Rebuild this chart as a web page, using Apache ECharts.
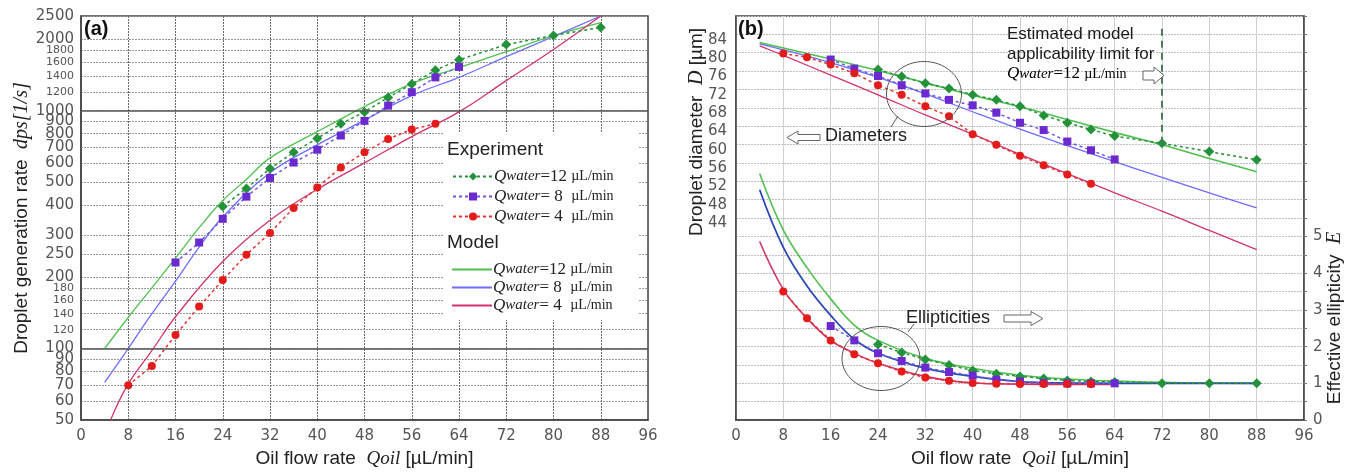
<!DOCTYPE html>
<html>
<head>
<meta charset="utf-8">
<script src="https://cdn.jsdelivr.net/npm/echarts@6/dist/echarts.min.js"></script>
<style>
html, body { margin: 0; background: #fff; }
#main { width: 1355px; height: 473px; }
</style>
</head>
<body>
<div id="main"></div>
<script>
// ---- panel (a): droplet generation rate dps [1/s] ----
var expX12 = [24, 28, 32, 36, 40, 44, 48, 52, 56, 60, 64, 72, 80, 88];
var expDps12 = [395, 471, 571, 668, 764, 880, 988, 1136, 1295, 1479, 1637, 1895, 2071, 2236];
var expX8 = [16, 20, 24, 28, 32, 36, 40, 44, 48, 52, 56, 60, 64];
var expDps8 = [230, 279, 351, 435, 521, 605, 685, 786, 906, 1050, 1196, 1380, 1527];
var expX4 = [8, 12, 16, 20, 24, 28, 32, 36, 40, 44, 48, 52, 56, 60];
var expDps4 = [70, 84.5, 114, 150, 194, 248, 306, 390, 475, 577, 668, 760, 834, 880];

var modX12 = [4, 8, 12, 16, 20, 24, 28, 32, 40, 48, 56, 64, 72, 80, 88];
var modDps12 = [100, 135, 180, 240, 322, 419, 514, 633, 816, 1040, 1300, 1518, 1770, 2066, 2345];
var modX8 = [4, 8, 12, 16, 20, 24, 32, 40, 48, 56, 64, 72, 80, 88];
var modDps8 = [72, 100, 140, 192, 267, 357, 548, 718, 912, 1157, 1380, 1686, 2050, 2500];
var modX4 = [5, 8, 12, 16, 24, 32, 40, 48, 56, 64, 72, 80, 88];
var modDps4 = [50, 71, 98, 136, 232, 346, 467, 603, 778, 988, 1337, 1808, 2500];

var dpsTicks = [50, 60, 70, 80, 90, 100, 120, 140, 160, 180, 200, 250, 300, 400, 500, 600, 700, 800, 900,
    1000, 1200, 1400, 1600, 1800, 2000, 2500];

// ---- panel (b): droplet diameter D [um] ----
var expD12 = [77.5, 76.0, 74.5, 73.4, 72.0, 70.9, 69.5, 67.5, 65.9, 64.4, 63.0, 61.4, 59.6, 57.8];
var expD8 = [79.7, 77.7, 76.1, 74.1, 72.3, 70.9, 69.7, 68.1, 65.9, 64.3, 61.8, 59.9, 57.9];
var expD4 = [81.0, 80.2, 78.6, 76.7, 74.1, 72.0, 69.5, 67.3, 63.4, 61.1, 58.7, 56.6, 54.6, 52.6];

var modXD = [4, 8, 16, 24, 32, 40, 48, 56, 64, 72, 80, 88];
var modD12 = [83.4, 82.2, 79.8, 77.3, 74.6, 71.9, 69.4, 66.6, 63.8, 61.1, 58.1, 55.2];
var modD8 = [83.1, 81.8, 79.0, 75.8, 72.2, 68.3, 64.5, 60.9, 57.4, 54.0, 50.6, 47.3];
var modD4 = [82.7, 80.6, 76.3, 72.0, 67.6, 63.4, 59.0, 54.8, 50.6, 46.6, 42.4, 38.2];
var dTicks = [44, 48, 52, 56, 60, 64, 68, 72, 76, 80, 84];

// ---- panel (b): effective ellipticity E ----
var expE12 = [2.06, 1.84, 1.65, 1.50, 1.35, 1.26, 1.19, 1.13, 1.08, 1.05, 1.04, 1.0, 1.0, 1.0];
var expE8 = [2.56, 2.17, 1.82, 1.61, 1.43, 1.31, 1.21, 1.10, 1.05, 1.01, 1.0, 1.0, 1.0];
var expE4 = [3.50, 2.77, 2.17, 1.79, 1.55, 1.32, 1.16, 1.07, 1.01, 0.99, 0.98, 0.98, 0.98, 0.98];

var modXE = [4, 8, 12, 16, 20, 24, 32, 40, 48, 56, 64, 72, 80, 88];
var modE12 = [6.71, 5.17, 4.15, 3.3, 2.58, 2.17, 1.68, 1.41, 1.22, 1.12, 1.06, 1.03, 1.01, 1.0];
var modE8 = [6.27, 4.7, 3.65, 2.85, 2.2, 1.82, 1.41, 1.19, 1.05, 1.01, 1.0, 1.0, 1.0, 1.0];
var modXE4 = [4, 8, 12, 16, 20, 24, 32, 40, 48, 56, 64];
var modE4 = [4.86, 3.56, 2.77, 2.17, 1.82, 1.55, 1.19, 1.01, 0.98, 0.97, 0.97];

var GREEN = '#23923a', GREEN_L = '#4fc04f';
var PURPLE = '#6a2ad0', BLUE_L = '#6d6dff', BLUE_D = '#2a48b8';
var RED = '#e31b1b', RED_M = '#d2336e';

function zip(xs, ys) {
    var out = [];
    for (var i = 0; i < xs.length; i++) out.push([xs[i], ys[i]]);
    return out;
}

var qRich = {
    q: {fontFamily: 'Liberation Serif', fontStyle: 'italic', fontSize: 17, color: '#222'},
    w: {fontFamily: 'Liberation Serif', fontStyle: 'italic', fontSize: 15, color: '#222'},
    n: {fontFamily: 'Liberation Serif', fontSize: 17, color: '#222'},
    u: {fontFamily: 'Liberation Serif', fontSize: 14, color: '#222'}
};
var legendText = {
    e12: '{q|Q}{w|water}{n|=12 }{u|\u00b5L/min}',
    e8: '{q|Q}{w|water}{n|= 8  }{u|\u00b5L/min}',
    e4: '{q|Q}{w|water}{n|= 4  }{u|\u00b5L/min}',
    m12: '{q|Q}{w|water}{n|=12 }{u|\u00b5L/min}',
    m8: '{q|Q}{w|water}{n|= 8  }{u|\u00b5L/min}',
    m4: '{q|Q}{w|water}{n|= 4  }{u|\u00b5L/min}'
};

function expSeries(name, xi, yi, data, sym, size, col, lineCol) {
    return {
        name: name, type: 'line', xAxisIndex: xi, yAxisIndex: yi, data: data,
        symbol: sym, symbolSize: size, z: 4,
        itemStyle: {color: col},
        lineStyle: {color: lineCol, width: 1.5, type: [3, 3]}
    };
}
function modSeries(name, xi, yi, data, col, width) {
    return {
        name: name, type: 'line', xAxisIndex: xi, yAxisIndex: yi, data: data,
        symbol: 'none', smooth: 0.4, z: 3,
        itemStyle: {color: col},
        lineStyle: {color: col, width: width || 1.3}
    };
}

var xLabel = {color: '#555', fontSize: 15, fontFamily: 'DejaVu Sans', margin: 9};
var xName = '{a|Oil flow rate  }{q|Qoil}{a| [\u00b5L/min]}';
var xNameStyle = {
    rich: {
        a: {fontFamily: 'Liberation Sans', fontSize: 19, color: '#222'},
        q: {fontFamily: 'Liberation Serif', fontStyle: 'italic', fontSize: 19, color: '#222'}
    }
};

var Chart = echarts.init(document.getElementById('main'));

var mod12 = modSeries('m12', 0, 0, zip(modX12, modDps12), GREEN_L);
mod12.markLine = {
    silent: true, symbol: 'none', label: {show: false},
    lineStyle: {color: '#555', width: 1.6, type: 'solid'},
    data: [{yAxis: 1000}, {yAxis: 100}]
};

var modD12s = modSeries('d_m12', 1, 1, zip(modXD, modD12), GREEN_L, 1.6);
modD12s.markLine = {
    silent: true, symbol: 'none', label: {show: false},
    lineStyle: {color: '#4a7a5a', width: 2, type: [7, 5]},
    data: [[{coord: [72, 86.4]}, {coord: [72, 61.4]}]]
};

var option = {
    animation: false,
    grid: [
        {left: 81, top: 16, width: 567, height: 410, show: true, borderColor: '#444', borderWidth: 1.5},
        {left: 736, top: 16, width: 568, height: 410, show: true, borderColor: '#444', borderWidth: 1.5}
    ],
    xAxis: [
        {
            type: 'value', gridIndex: 0, min: 0, max: 96, interval: 8,
            axisLine: {lineStyle: {color: '#444', width: 1.5}},
            axisTick: {show: false},
            axisLabel: xLabel,
            splitLine: {show: true, lineStyle: {color: '#6a6a6a', type: [2, 1], width: 1}},
            name: xName, nameLocation: 'middle', nameGap: 24, nameTextStyle: xNameStyle
        },
        {
            type: 'value', gridIndex: 1, min: 0, max: 96, interval: 8,
            axisLine: {lineStyle: {color: '#444', width: 1.5}},
            axisTick: {show: false},
            axisLabel: xLabel,
            splitLine: {show: true, lineStyle: {color: '#d0d0d0', width: 1}},
            name: xName, nameLocation: 'middle', nameGap: 24, nameTextStyle: xNameStyle
        }
    ],
    yAxis: [
        {
            type: 'log', logBase: 10, gridIndex: 0, min: 50, max: 2500,
            axisLine: {show: true, lineStyle: {color: '#444', width: 1.5}},
            axisTick: {show: false, customValues: dpsTicks},
            axisLabel: {
                customValues: dpsTicks, margin: 7, color: '#555',
                formatter: function (v) {
                    v = Math.round(v);
                    var small = (v > 100 && v < 200) || (v > 1000 && v < 2000);
                    return small ? '{s|' + v + '}' : '{b|' + v + '}';
                },
                rich: {
                    s: {fontSize: 11, fontFamily: 'DejaVu Sans', color: '#555'},
                    b: {fontSize: 15, fontFamily: 'DejaVu Sans', color: '#555'}
                }
            },
            splitLine: {show: true, lineStyle: {color: '#9a9a9a', type: [2, 1], width: 1}},
            name: '{a|Droplet generation rate  }{q|dps}{q|[1/s]}',
            nameLocation: 'middle', nameGap: 48,
            nameTextStyle: {
                rich: {
                    a: {fontFamily: 'Liberation Sans', fontSize: 19, color: '#222'},
                    q: {fontFamily: 'Liberation Serif', fontStyle: 'italic', fontSize: 20, color: '#222'}
                }
            }
        },
        {
            type: 'value', gridIndex: 1, position: 'left', min: 1, max: 89.2,
            axisLine: {show: true, lineStyle: {color: '#444', width: 1.5}},
            axisTick: {show: false, customValues: dTicks},
            axisLabel: {customValues: dTicks, color: '#555', fontSize: 15, fontFamily: 'DejaVu Sans', margin: 9},
            splitLine: {show: false}
        },
        {
            type: 'value', gridIndex: 1, position: 'right', min: 0, max: 11, interval: 0.5,
            axisLine: {show: true, lineStyle: {color: '#444', width: 1.5}},
            axisTick: {show: true, length: 3, lineStyle: {color: '#777'}},
            axisLabel: {
                color: '#555', fontSize: 15, fontFamily: 'DejaVu Sans', margin: 9,
                formatter: function (v) {
                    return (v <= 5 && Math.round(v) === v) ? String(v) : '';
                }
            },
            splitLine: {show: true, lineStyle: {color: '#bdbdbd', type: [2, 1], width: 1}}
        }
    ],
    legend: [
        {
            data: ['e12', 'e8', 'e4'], orient: 'vertical', left: 447, top: 163,
            itemWidth: 40, itemHeight: 10, itemGap: 3, z: 6,
            formatter: function (n) { return legendText[n]; },
            textStyle: {rich: qRich, padding: [0, 0, 0, -4]}
        },
        {
            data: ['m12', 'm8', 'm4'], orient: 'vertical', left: 447, top: 256,
            icon: 'rect', itemWidth: 40, itemHeight: 2, itemGap: 1, z: 6,
            formatter: function (n) { return legendText[n]; },
            textStyle: {rich: qRich, padding: [0, 0, 0, -4]}
        }
    ],
    graphic: [
        {type: 'rect', z: 1, shape: {x: 443, y: 132, width: 195, height: 188}, style: {fill: '#fff'}},
        {type: 'text', z: 6, x: 447, y: 150, style: {text: 'Experiment', font: '19px "Liberation Sans"', fill: '#222', verticalAlign: 'middle'}},
        {type: 'text', z: 6, x: 447, y: 243, style: {text: 'Model', font: '19px "Liberation Sans"', fill: '#222', verticalAlign: 'middle'}},
        {type: 'text', z: 6, x: 84, y: 29, style: {text: '(a)', font: 'bold 20px "Liberation Sans"', fill: '#111', verticalAlign: 'middle'}},
        {type: 'text', z: 6, x: 738, y: 29, style: {text: '(b)', font: 'bold 20px "Liberation Sans"', fill: '#111', verticalAlign: 'middle'}},
        {
            type: 'text', z: 6, x: 697, y: 132, rotation: Math.PI / 2,
            style: {
                text: '{a|Droplet diameter  }{q|D}{a| [\u00b5m]}', align: 'center', verticalAlign: 'middle',
                rich: {
                    a: {fontFamily: 'Liberation Sans', fontSize: 19, fill: '#222'},
                    q: {fontFamily: 'Liberation Serif', fontStyle: 'italic', fontSize: 20, fill: '#222'}
                }
            }
        },
        {
            type: 'text', z: 6, x: 1335, y: 318, rotation: Math.PI / 2,
            style: {
                text: '{a|Effective ellipticity  }{q|E}', align: 'center', verticalAlign: 'middle',
                rich: {
                    a: {fontFamily: 'Liberation Sans', fontSize: 19, fill: '#222'},
                    q: {fontFamily: 'Liberation Serif', fontStyle: 'italic', fontSize: 20, fill: '#222'}
                }
            }
        },
        // Diameters annotation
        {type: 'ellipse', z: 6, shape: {cx: 924, cy: 94, rx: 37.5, ry: 32.5}, style: {fill: 'none', stroke: '#555', lineWidth: 1}},
        {type: 'line', z: 6, shape: {x1: 898, y1: 116, x2: 891, y2: 127}, style: {stroke: '#555', lineWidth: 1}},
        {type: 'text', z: 6, x: 825, y: 136, style: {text: 'Diameters', font: '18px "Liberation Sans"', fill: '#222', verticalAlign: 'middle'}},
        {
            type: 'polygon', z: 6,
            shape: {points: [[787, 137.5], [798, 131], [798, 134.5], [820, 134.5], [820, 140.5], [798, 140.5], [798, 144]]},
            style: {fill: '#fff', stroke: '#666', lineWidth: 1}
        },
        // Ellipticities annotation
        {type: 'ellipse', z: 6, shape: {cx: 881, cy: 358.5, rx: 39, ry: 32}, style: {fill: 'none', stroke: '#555', lineWidth: 1}},
        {type: 'line', z: 6, shape: {x1: 908, y1: 332, x2: 914, y2: 324}, style: {stroke: '#555', lineWidth: 1}},
        {type: 'text', z: 6, x: 906, y: 318, style: {text: 'Ellipticities', font: '18px "Liberation Sans"', fill: '#222', verticalAlign: 'middle'}},
        {
            type: 'polygon', z: 6,
            shape: {points: [[1043, 318.5], [1031, 311.5], [1031, 315], [1004, 315], [1004, 322], [1031, 322], [1031, 325.5]]},
            style: {fill: '#fff', stroke: '#666', lineWidth: 1}
        },
        // applicability limit note
        {type: 'text', z: 6, x: 1007, y: 34, style: {text: 'Estimated model', font: '17px "Liberation Sans"', fill: '#1a1a1a', verticalAlign: 'middle'}},
        {type: 'text', z: 6, x: 1007, y: 54, style: {text: 'applicability limit for', font: '17px "Liberation Sans"', fill: '#1a1a1a', verticalAlign: 'middle'}},
        {
            type: 'text', z: 6, x: 1007, y: 74,
            style: {text: '{q|Q}{w|water}{n|=12 }{u|\u00b5L/min}', verticalAlign: 'middle', rich: qRich}
        },
        {
            type: 'polygon', z: 6,
            shape: {points: [[1164, 75.5], [1154, 67], [1154, 71], [1143, 71], [1143, 80], [1154, 80], [1154, 84]]},
            style: {fill: '#fff', stroke: '#666', lineWidth: 1}
        }
    ],
    series: [
        // panel (a)
        mod12,
        modSeries('m8', 0, 0, zip(modX8, modDps8), BLUE_L),
        modSeries('m4', 0, 0, zip(modX4, modDps4), RED_M),
        expSeries('e12', 0, 0, zip(expX12, expDps12), 'diamond', 10, GREEN, GREEN),
        expSeries('e8', 0, 0, zip(expX8, expDps8), 'rect', 8, PURPLE, '#6a5ae8'),
        expSeries('e4', 0, 0, zip(expX4, expDps4), 'circle', 8, RED, '#e83030'),
        // panel (b) diameters
        modD12s,
        modSeries('d_m8', 1, 1, zip(modXD, modD8), BLUE_L),
        modSeries('d_m4', 1, 1, zip(modXD, modD4), RED_M),
        expSeries('d_e12', 1, 1, zip(expX12, expD12), 'diamond', 10, GREEN, GREEN),
        expSeries('d_e8', 1, 1, zip(expX8, expD8), 'rect', 8, PURPLE, '#6a5ae8'),
        expSeries('d_e4', 1, 1, zip(expX4, expD4), 'circle', 8, RED, '#e83030'),
        // panel (b) ellipticities
        modSeries('E_m12', 1, 2, zip(modXE, modE12), GREEN_L, 1.6),
        modSeries('E_m4', 1, 2, zip(modXE4, modE4), RED_M, 1.6),
        modSeries('E_m8', 1, 2, zip(modXE, modE8), BLUE_D, 1.8),
        expSeries('E_e12', 1, 2, zip(expX12, expE12), 'diamond', 10, GREEN, GREEN),
        expSeries('E_e8', 1, 2, zip(expX8, expE8), 'rect', 8, PURPLE, '#6a5ae8'),
        expSeries('E_e4', 1, 2, zip(expX4, expE4), 'circle', 8, RED, '#e83030')
    ]
};
Chart.setOption(option);
</script>
</body>
</html>
